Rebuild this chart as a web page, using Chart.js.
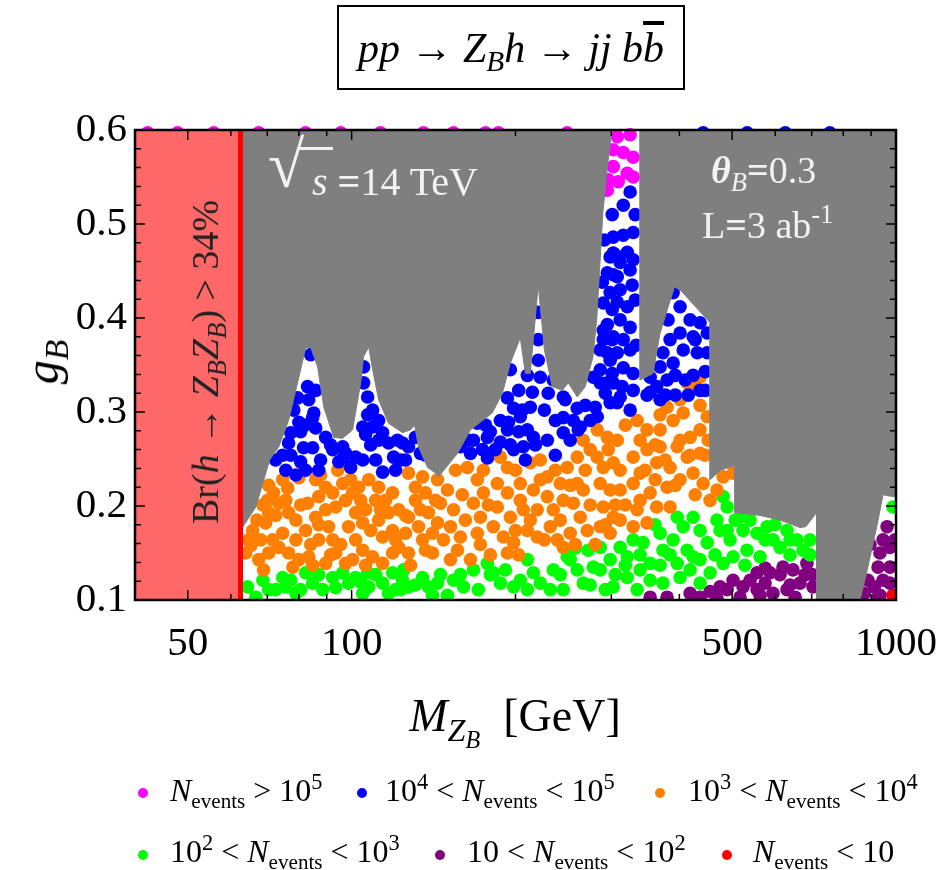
<!DOCTYPE html>
<html>
<head>
<meta charset="utf-8">
<title>pp → Z_B h → jj bb̄</title>
<script src="https://cdn.jsdelivr.net/npm/chart.js@4/dist/chart.umd.min.js"></script>
<style>
  html, body { margin: 0; padding: 0; background: #fff; }
  #wrap { position: relative; width: 941px; height: 870px; font-family: 'Liberation Serif', serif; color: #000; overflow: hidden; }
  #wrap canvas { position: absolute; left: 0; top: 0; }
  .lbl { position: absolute; white-space: nowrap; line-height: 1; z-index: 2; }
  .lbl sub { font-size: 0.7em; vertical-align: -0.3em; line-height: 0; }
  .lbl sup { font-size: 0.7em; vertical-align: 0.55em; line-height: 0; }
  .titlebox { left: 337px; top: 5px; width: 344px; height: 81px; border: 2px solid #000;
    font-size: 42px; display: flex; align-items: center; justify-content: center; }
  .ingray { color: #f2f2f2; }
  .dot { position: absolute; width: 10px; height: 10px; border-radius: 50%; z-index: 2; }
  .leg { font-size: 32px; }
  .leg sub { font-size: 0.66em; vertical-align: -0.35em; }
</style>
</head>
<body>
<div id="wrap">
  <canvas id="myChart" width="941" height="870"></canvas>

  <div class="lbl titlebox"><span><i>pp</i> → <i>Z</i><sub><i>B</i></sub><i>h</i> → <i>jj</i>&nbsp;<i>b</i><i style="text-decoration: overline;">b</i></span></div>

  <div class="lbl ingray" style="left:268px; top:132px; font-size:66px;">√</div>
  <div class="lbl" style="left:297px; top:147px; width:36px; height:3px; background:#f2f2f2;"></div>
  <div class="lbl ingray" style="left:312px; top:162px; font-size:40px;"><i>s</i> <b>=</b>14 TeV</div>
  <div class="lbl ingray" style="left:711px; top:151px; font-size:38px;"><b><i>θ</i></b><sub><i>B</i></sub><b>=</b>0.3</div>
  <div class="lbl ingray" style="left:702px; top:206px; font-size:38px;">L<b>=</b>3 ab<sup>-1</sup></div>

  <div class="lbl" style="left:205px; top:362px; font-size:38px; color:#222; transform:translate(-50%,-50%) rotate(-90deg);">Br(<i>h</i> → <i>Z</i><sub><i>B</i></sub><i>Z</i><sub><i>B</i></sub>) &gt; 34%</div>

  <div class="lbl" style="left:42px; top:362px; font-size:48px; transform:translate(-50%,-50%) rotate(-90deg);"><i>g</i><sub><i>B</i></sub></div>
  <div class="lbl" style="left:515px; top:716px; font-size:46px; transform:translate(-50%,-50%);"><i>M</i><sub><i>Z</i><sub style="font-size:0.75em;"><i>B</i></sub></sub>&nbsp;&nbsp;[GeV]</div>

  <div class="dot" style="left:138px; top:788px; background:#ff00ff;"></div>
  <div class="lbl leg" style="left:170px; top:774px;"><i>N</i><sub>events</sub> &gt; 10<sup>5</sup></div>
  <div class="dot" style="left:357px; top:788px; background:#0000ff;"></div>
  <div class="lbl leg" style="left:385px; top:774px;">10<sup>4</sup> &lt; <i>N</i><sub>events</sub> &lt; 10<sup>5</sup></div>
  <div class="dot" style="left:655px; top:788px; background:#ff8000;"></div>
  <div class="lbl leg" style="left:688px; top:774px;">10<sup>3</sup> &lt; <i>N</i><sub>events</sub> &lt; 10<sup>4</sup></div>

  <div class="dot" style="left:138px; top:850px; background:#00ff00;"></div>
  <div class="lbl leg" style="left:170px; top:835px;">10<sup>2</sup> &lt; <i>N</i><sub>events</sub> &lt; 10<sup>3</sup></div>
  <div class="dot" style="left:435px; top:850px; background:#800080;"></div>
  <div class="lbl leg" style="left:467px; top:835px;">10 &lt; <i>N</i><sub>events</sub> &lt; 10<sup>2</sup></div>
  <div class="dot" style="left:722px; top:850px; background:#ff0000;"></div>
  <div class="lbl leg" style="left:753px; top:835px;"><i>N</i><sub>events</sub> &lt; 10</div>
</div>

<script>
'use strict'

// axis ticks
var xTickLabels = [50, 100, 500, 1000];
var xMinorTicks = [40, 60, 70, 80, 90, 200, 300, 400, 600, 700, 800, 900];
var yTickLabels = [0.1, 0.2, 0.3, 0.4, 0.5, 0.6];
var yMinorTicks = [0.12, 0.14, 0.16, 0.18, 0.22, 0.24, 0.26, 0.28, 0.32, 0.34, 0.36, 0.38,
  0.42, 0.44, 0.46, 0.48, 0.52, 0.54, 0.56, 0.58];

// Br(h -> ZB ZB) cut: M_ZB < m_h / 2
var brCut = 62.5;

// upper edge of the allowed (white) region, [M_ZB, g_B]
var excludedEdge = [
  [62.5, 0.174], [66.7, 0.199], [70.7, 0.249], [73.5, 0.263], [76.6, 0.291], [80.0, 0.337],
  [82.3, 0.368], [84.1, 0.369], [86.6, 0.348], [88.9, 0.305], [92.7, 0.273], [96.3, 0.272],
  [100.4, 0.281], [103.9, 0.331], [105.2, 0.359], [107.5, 0.369], [109.3, 0.345], [112.1, 0.313],
  [116.9, 0.288], [124.0, 0.278], [128.3, 0.281], [130.5, 0.286], [132.7, 0.263], [137.9, 0.241],
  [142.6, 0.235], [144.4, 0.231], [156.5, 0.256], [165.3, 0.281], [181.3, 0.299], [189.2, 0.320],
  [195.7, 0.352], [204.1, 0.379], [208.5, 0.341], [212.9, 0.341], [220.2, 0.435], [226.0, 0.366],
  [233.6, 0.327], [243.8, 0.323], [250.0, 0.331], [259.7, 0.316], [268.6, 0.327], [277.6, 0.359],
  [282.2, 0.401], [289.4, 0.512], [295.6, 0.565], [300.8, 0.6], [338.8, 0.6], [338.8, 0.334],
  [357.8, 0.341], [368.7, 0.384], [391.6, 0.433], [401.2, 0.430], [455.5, 0.395], [455.5, 0.228],
  [476.2, 0.238], [506.0, 0.243], [506.0, 0.193], [562.7, 0.190], [612.3, 0.185], [666.3, 0.177],
  [682.8, 0.178], [715.1, 0.193], [715.1, 0.1], [858.7, 0.1], [883.0, 0.129], [922.0, 0.178],
  [946.6, 0.212], [985.5, 0.210], [1000, 0.210]
];

// scan points [M_ZB, g_B] per N_events class
var magenta = [
  [307.6, 0.593], [324.8, 0.595], [302.4, 0.579], [315.5, 0.576], [329.0, 0.571], [302.4, 0.561],
  [320.9, 0.554], [329.0, 0.550], [296.1, 0.547], [294.9, 0.536], [308.9, 0.545],
  [42.2, 0.597], [47.9, 0.597], [55.8, 0.597], [67.5, 0.597], [82.3, 0.597], [95.5, 0.597],
  [113.0, 0.597], [135.5, 0.597], [153.9, 0.597], [176.2, 0.597], [186.1, 0.597], [248.9, 0.597]
];

var blue = [
  [84.1, 0.361], [83.0, 0.327], [85.9, 0.323], [79.6, 0.315], [83.4, 0.313], [84.8, 0.294],
  [80.0, 0.289], [77.3, 0.278], [80.6, 0.279], [85.9, 0.283], [89.6, 0.273], [76.6, 0.267],
  [72.5, 0.249], [77.3, 0.254], [80.6, 0.247], [79.0, 0.233], [81.6, 0.262], [84.8, 0.262],
  [92.3, 0.260], [96.3, 0.263], [97.5, 0.256], [99.6, 0.241], [101.7, 0.252], [104.8, 0.249],
  [107.0, 0.316], [105.2, 0.331], [105.2, 0.348], [109.3, 0.302], [107.0, 0.297], [104.8, 0.284],
  [109.3, 0.284], [112.1, 0.291], [114.0, 0.278], [112.1, 0.270], [116.9, 0.267], [119.4, 0.252],
  [114.0, 0.236], [120.4, 0.238], [124.0, 0.267], [127.2, 0.263], [131.0, 0.273], [125.6, 0.249],
  [85.2, 0.299], [96.7, 0.252], [121.4, 0.270], [133.8, 0.256],
  [74.7, 0.254], [75.7, 0.238], [82.3, 0.238], [87.7, 0.249], [91.5, 0.265], [87.0, 0.238],
  [78.3, 0.302], [82.0, 0.286], [94.7, 0.247], [108.4, 0.265], [110.7, 0.249], [106.1, 0.276],
  [123.0, 0.249], [136.7, 0.254], [142.6, 0.249],
  [158.4, 0.263], [167.4, 0.270], [170.2, 0.288], [177.6, 0.273], [187.6, 0.268], [193.3, 0.281],
  [198.4, 0.304], [204.1, 0.295], [212.9, 0.305], [215.7, 0.273], [228.8, 0.270], [244.8, 0.278],
  [263.0, 0.284], [274.3, 0.291], [282.6, 0.295], [298.5, 0.310], [311.4, 0.316], [329.0, 0.323],
  [324.8, 0.302], [244.8, 0.316], [259.7, 0.304], [234.7, 0.334], [222.1, 0.337], [294.9, 0.331],
  [179.8, 0.279], [173.9, 0.260], [195.7, 0.265], [194.1, 0.289], [202.7, 0.279], [210.3, 0.281],
  [205.9, 0.302], [202.7, 0.323], [193.3, 0.315], [195.7, 0.345], [210.3, 0.339], [220.2, 0.355],
  [220.2, 0.377], [220.2, 0.406], [229.7, 0.320], [244.8, 0.294], [260.8, 0.281], [280.2, 0.305],
  [292.4, 0.320], [302.4, 0.331], [286.2, 0.331], [277.9, 0.337], [298.5, 0.355], [301.1, 0.377],
  [289.9, 0.377], [294.9, 0.393], [301.1, 0.409], [289.9, 0.416], [298.5, 0.427], [288.7, 0.438],
  [302.4, 0.446], [298.5, 0.465], [305.0, 0.467], [206.7, 0.263], [198.4, 0.260], [177.6, 0.251],
  [165.3, 0.256],
  [163.9, 0.270], [176.2, 0.286], [183.6, 0.260], [187.6, 0.291], [208.5, 0.249], [217.5, 0.265],
  [236.7, 0.254], [252.1, 0.270], [255.4, 0.291], [268.6, 0.307], [236.7, 0.291], [246.8, 0.313],
  [226.0, 0.302], [214.8, 0.321],
  [324.8, 0.534], [315.5, 0.520], [302.4, 0.486], [315.5, 0.488], [329.0, 0.491], [302.4, 0.469],
  [320.9, 0.470], [311.4, 0.459], [294.9, 0.448], [307.6, 0.444], [324.8, 0.451], [327.6, 0.435],
  [307.6, 0.417], [320.9, 0.412], [311.4, 0.398], [324.8, 0.390], [289.9, 0.387], [302.4, 0.380],
  [315.5, 0.377], [294.9, 0.363], [307.6, 0.363], [324.8, 0.366], [286.2, 0.345], [301.1, 0.341],
  [315.5, 0.347], [329.0, 0.341], [314.1, 0.327], [307.6, 0.310], [348.8, 0.318],
  [331.8, 0.419], [329.0, 0.462], [331.8, 0.510], [301.1, 0.510], [291.2, 0.483], [311.4, 0.430],
  [333.2, 0.371], [286.2, 0.366],
  [389.6, 0.427], [401.2, 0.412], [418.6, 0.398], [436.6, 0.395], [450.1, 0.384], [381.3, 0.398],
  [401.2, 0.384], [424.0, 0.380], [384.6, 0.377], [406.6, 0.366], [431.4, 0.363], [450.1, 0.363],
  [373.2, 0.363], [368.7, 0.348], [389.6, 0.352], [379.7, 0.334], [363.4, 0.327], [353.5, 0.337],
  [424.0, 0.339], [446.2, 0.343], [436.6, 0.323], [415.3, 0.318], [393.1, 0.318], [368.7, 0.313],
  [427.6, 0.377], [446.2, 0.323], [410.0, 0.334], [353.5, 0.321], [393.1, 0.339], [376.8, 0.318],
  [442.5, 0.597], [533.0, 0.597], [626.0, 0.597], [756.0, 0.597]
];

var orange = [
  [74.7, 0.228], [76.3, 0.219], [71.9, 0.214], [70.1, 0.206], [73.5, 0.203], [70.4, 0.193],
  [69.5, 0.182], [65.8, 0.174], [64.7, 0.164], [63.9, 0.150], [68.1, 0.164], [71.6, 0.164],
  [74.7, 0.171], [73.5, 0.156], [70.4, 0.150], [76.6, 0.150], [80.0, 0.143], [83.4, 0.146],
  [68.9, 0.132], [76.6, 0.193], [79.0, 0.185], [82.3, 0.174], [83.0, 0.203], [87.0, 0.210],
  [85.9, 0.228], [89.6, 0.220], [92.3, 0.214], [93.5, 0.199], [89.6, 0.196], [85.9, 0.188],
  [90.7, 0.178], [87.0, 0.164], [92.3, 0.164], [93.5, 0.150], [89.6, 0.139], [97.5, 0.139],
  [96.3, 0.224], [100.4, 0.214], [97.5, 0.206], [103.0, 0.220], [101.7, 0.193], [106.1, 0.196],
  [104.8, 0.182], [98.7, 0.178], [101.7, 0.164], [104.8, 0.153], [109.3, 0.146], [114.0, 0.139],
  [107.5, 0.228], [112.1, 0.220], [110.7, 0.206], [115.4, 0.206], [118.9, 0.214], [116.9, 0.193],
  [122.0, 0.196], [112.1, 0.185], [118.9, 0.174], [114.0, 0.167], [125.6, 0.171], [122.0, 0.156],
  [118.9, 0.150], [127.2, 0.150], [131.0, 0.220], [127.2, 0.235], [135.0, 0.231], [136.7, 0.214],
  [131.0, 0.206], [127.2, 0.188], [132.7, 0.178], [138.4, 0.193], [135.0, 0.164], [140.8, 0.171],
  [140.8, 0.150],
  [65.3, 0.158], [67.0, 0.185], [68.7, 0.201], [67.5, 0.143], [72.5, 0.190], [75.7, 0.206],
  [79.0, 0.164], [80.6, 0.201], [78.0, 0.135], [84.1, 0.159], [70.4, 0.222], [80.0, 0.230],
  [87.7, 0.233], [94.3, 0.238], [99.6, 0.228], [103.9, 0.206], [108.4, 0.174], [95.5, 0.159],
  [100.4, 0.143], [106.1, 0.137], [113.0, 0.196], [120.4, 0.164], [125.6, 0.190], [128.3, 0.137],
  [133.8, 0.196], [136.7, 0.153], [142.6, 0.206], [87.0, 0.180], [91.5, 0.148], [84.8, 0.137],
  [143.8, 0.228], [150.0, 0.217], [145.6, 0.203], [153.9, 0.196], [143.8, 0.182], [151.9, 0.178],
  [158.4, 0.167], [147.5, 0.164], [156.5, 0.153], [165.3, 0.143], [170.2, 0.171], [172.4, 0.188],
  [167.4, 0.203], [174.6, 0.214], [170.2, 0.228], [174.6, 0.238], [163.2, 0.241], [187.6, 0.252],
  [193.3, 0.241], [185.2, 0.224], [193.3, 0.214], [185.2, 0.199], [195.7, 0.188], [182.1, 0.178],
  [190.0, 0.167], [198.4, 0.161], [193.3, 0.150], [204.1, 0.224], [212.9, 0.246], [222.1, 0.249],
  [228.8, 0.231], [215.7, 0.217], [228.8, 0.210], [219.3, 0.196], [206.7, 0.196], [210.3, 0.174],
  [219.3, 0.167], [231.7, 0.178], [238.7, 0.164], [244.8, 0.156], [234.7, 0.196], [244.8, 0.206],
  [241.7, 0.224], [248.9, 0.241], [259.7, 0.252], [259.7, 0.224], [266.4, 0.217], [255.4, 0.203],
  [263.0, 0.188], [270.9, 0.174], [252.1, 0.171], [274.3, 0.260], [266.4, 0.270], [282.6, 0.281],
  [282.6, 0.252], [294.9, 0.273], [289.9, 0.241], [302.4, 0.246], [286.2, 0.224], [298.5, 0.217],
  [289.9, 0.199], [302.4, 0.188], [286.2, 0.178], [298.5, 0.171],
  [155.2, 0.238], [159.7, 0.212], [161.8, 0.185], [151.9, 0.143], [172.4, 0.159], [178.3, 0.201],
  [179.8, 0.148], [200.0, 0.238], [204.1, 0.206], [200.0, 0.174], [202.7, 0.148], [212.9, 0.185],
  [222.1, 0.228], [226.0, 0.164], [236.7, 0.238], [241.7, 0.185], [252.1, 0.222], [257.6, 0.159],
  [268.6, 0.238], [274.3, 0.201], [280.2, 0.159], [296.1, 0.260], [305.0, 0.201], [292.4, 0.180],
  [311.4, 0.238], [307.6, 0.270],
  [413.4, 0.331], [436.6, 0.337], [401.2, 0.313], [379.7, 0.305], [389.6, 0.291], [334.6, 0.291],
  [348.8, 0.281], [368.7, 0.281], [406.6, 0.299], [418.6, 0.273], [436.6, 0.281], [450.1, 0.295],
  [396.4, 0.263], [413.4, 0.252], [436.6, 0.256], [368.7, 0.263], [348.8, 0.260], [329.0, 0.252],
  [338.8, 0.235], [363.4, 0.246], [384.6, 0.241], [401.2, 0.228], [424.0, 0.235], [442.3, 0.224],
  [379.7, 0.220], [353.5, 0.214], [329.0, 0.224], [311.4, 0.217], [363.4, 0.199], [384.6, 0.199],
  [334.6, 0.196], [311.4, 0.185], [329.0, 0.178], [348.8, 0.182], [455.5, 0.206], [469.0, 0.217],
  [481.3, 0.231], [502.0, 0.235], [318.3, 0.286], [338.8, 0.270],
  [318.3, 0.201], [338.8, 0.206], [361.1, 0.228], [376.8, 0.249], [393.1, 0.222], [418.6, 0.254],
  [427.6, 0.212], [446.2, 0.254], [401.2, 0.270], [368.7, 0.297], [436.6, 0.307], [424.0, 0.329],
  [361.1, 0.265], [345.9, 0.238], [451.9, 0.270]
];

var green = [
  [64.4, 0.114], [68.7, 0.121], [70.4, 0.111], [74.7, 0.124], [75.7, 0.114], [79.0, 0.107],
  [82.3, 0.129], [84.8, 0.118], [88.5, 0.111], [92.3, 0.124], [96.3, 0.129], [98.7, 0.118],
  [101.7, 0.124], [107.5, 0.114], [104.8, 0.107], [114.0, 0.118], [118.9, 0.129], [124.0, 0.121],
  [127.2, 0.114], [135.0, 0.124], [138.4, 0.114], [116.9, 0.107], [107.0, 0.129], [124.6, 0.132],
  [123.0, 0.111],
  [66.7, 0.103], [72.5, 0.111], [77.3, 0.121], [80.6, 0.111], [87.0, 0.127], [93.5, 0.113],
  [103.9, 0.119], [110.7, 0.127], [120.4, 0.111], [131.0, 0.116], [145.6, 0.127], [140.8, 0.105],
  [143.8, 0.118], [153.9, 0.121], [160.5, 0.114], [167.4, 0.132], [177.6, 0.139], [182.1, 0.129],
  [187.6, 0.118], [198.4, 0.114], [210.3, 0.143], [215.7, 0.129], [222.1, 0.118], [234.7, 0.132],
  [248.9, 0.146], [259.7, 0.132], [266.4, 0.118], [277.9, 0.135], [286.2, 0.156], [298.5, 0.143],
  [311.4, 0.156], [329.0, 0.164], [320.9, 0.124], [302.4, 0.114], [244.8, 0.111], [210.3, 0.111],
  [150.0, 0.105],
  [158.4, 0.127], [170.9, 0.111], [179.8, 0.127], [191.6, 0.132], [204.1, 0.121], [231.7, 0.111],
  [241.7, 0.127], [252.1, 0.143], [274.3, 0.116], [286.2, 0.132], [292.4, 0.111], [305.0, 0.127],
  [272.0, 0.153], [257.6, 0.155],
  [320.9, 0.146], [338.8, 0.132], [334.6, 0.111], [353.5, 0.139], [373.2, 0.153], [368.7, 0.171],
  [389.6, 0.164], [406.6, 0.178], [396.4, 0.188], [424.0, 0.188], [436.6, 0.174], [413.4, 0.153],
  [396.4, 0.139], [424.0, 0.146], [450.1, 0.161], [455.5, 0.129], [401.2, 0.124], [373.2, 0.118],
  [469.0, 0.185], [489.6, 0.199], [517.0, 0.188], [489.6, 0.174], [523.5, 0.174], [502.0, 0.146],
  [532.4, 0.153], [555.6, 0.171], [579.7, 0.178], [594.3, 0.164], [562.7, 0.146], [630.7, 0.174],
  [612.3, 0.156], [657.7, 0.164], [675.0, 0.153], [481.3, 0.139], [436.6, 0.118], [343.1, 0.161],
  [481.3, 0.210], [987.3, 0.199], [695.1, 0.164], [638.7, 0.148],
  [353.5, 0.121], [368.7, 0.137], [384.6, 0.148], [418.6, 0.132], [436.6, 0.143], [465.1, 0.148],
  [495.6, 0.164], [528.0, 0.137], [539.4, 0.185], [574.8, 0.164], [599.3, 0.180], [638.7, 0.164],
  [695.1, 0.148], [475.1, 0.174], [506.6, 0.185], [361.1, 0.180], [338.8, 0.148], [318.3, 0.137]
];

var purple = [
  [353.5, 0.103], [379.7, 0.103], [436.6, 0.103], [475.1, 0.114], [502.0, 0.121], [523.5, 0.114],
  [555.6, 0.129], [587.0, 0.129], [620.1, 0.135], [646.7, 0.132], [686.0, 0.139], [666.3, 0.118],
  [630.7, 0.111], [594.3, 0.107], [703.7, 0.114], [555.6, 0.111], [517.0, 0.103], [469.0, 0.102],
  [574.8, 0.118], [418.6, 0.107], [455.5, 0.109], [489.6, 0.111], [539.4, 0.121], [574.8, 0.134],
  [612.3, 0.127], [638.7, 0.116], [680.8, 0.127], [701.4, 0.127], [562.7, 0.105], [652.7, 0.103],
  [962.9, 0.178], [946.7, 0.164], [974.8, 0.156], [934.4, 0.150], [927.0, 0.135], [974.8, 0.135],
  [946.7, 0.121], [912.3, 0.114], [874.2, 0.107], [974.8, 0.118], [927.0, 0.103], [895.8, 0.159],
  [888.1, 0.121], [995.8, 0.164], [934.4, 0.105]
];

var red = [[987.3, 0.105]];

function toXY(list) {
  return list.map(function(p) { return { x: p[0], y: p[1] }; });
}

function pointSet(list, color, noClip) {
  var ds = {
    type: 'scatter',
    data: toXY(list),
    backgroundColor: color,
    borderWidth: 0,
    pointRadius: 6.8,
    pointHoverRadius: 6.8,
    order: 3
  };
  if (noClip) ds.clip = false;
  return ds;
}

// inward ticks on all four sides plus the frame
var frameTicks = {
  id: 'frameTicks',
  afterDatasetsDraw: function(chart) {
    var ctx = chart.ctx;
    var a = chart.chartArea;
    var xs = chart.scales.x;
    var ys = chart.scales.y;
    ctx.save();
    ctx.strokeStyle = '#000';
    ctx.lineWidth = 1.5;
    ctx.beginPath();
    function xTick(v, len) {
      var px = xs.getPixelForValue(v);
      ctx.moveTo(px, a.bottom); ctx.lineTo(px, a.bottom - len);
      ctx.moveTo(px, a.top); ctx.lineTo(px, a.top + len);
    }
    function yTick(v, len) {
      var py = ys.getPixelForValue(v);
      ctx.moveTo(a.left, py); ctx.lineTo(a.left + len, py);
      ctx.moveTo(a.right, py); ctx.lineTo(a.right - len, py);
    }
    xMinorTicks.forEach(function(v) { xTick(v, 6); });
    xTickLabels.forEach(function(v) { xTick(v, 10); });
    yMinorTicks.forEach(function(v) { yTick(v, 6); });
    yTickLabels.forEach(function(v) { yTick(v, 10); });
    ctx.stroke();
    ctx.lineWidth = 2.5;
    ctx.strokeRect(a.left, a.top, a.right - a.left, a.bottom - a.top);
    ctx.restore();
  }
};

var tickFont = { family: "'Liberation Serif', serif", size: 41 };

var chart = new Chart(document.getElementById('myChart'), {
  type: 'scatter',
  data: {
    datasets: [
      {
        type: 'line',
        data: toXY([[brCut, 0.1], [brCut, 0.6]]),
        borderColor: '#ff0000',
        borderWidth: 5,
        pointRadius: 0,
        fill: false,
        order: 0
      },
      {
        type: 'line',
        data: toXY([[40, 0.6], [brCut, 0.6]]),
        borderColor: '#ff6868',
        borderWidth: 1,
        backgroundColor: '#ff6868',
        pointRadius: 0,
        fill: 'start',
        order: 1
      },
      {
        type: 'line',
        data: toXY(excludedEdge),
        borderColor: '#7f7f7f',
        borderWidth: 1,
        backgroundColor: '#7f7f7f',
        pointRadius: 0,
        tension: 0,
        fill: 'end',
        order: 2
      },
      pointSet(magenta, '#ff00ff', true),
      pointSet(blue, '#0000ff', true),
      pointSet(orange, '#ff8000'),
      pointSet(green, '#00ff00'),
      pointSet(purple, '#800080'),
      pointSet(red, '#ff0000')
    ]
  },
  options: {
    responsive: false,
    animation: false,
    events: [],
    layout: { padding: { left: 0, top: 130, right: 45, bottom: 200 } },
    plugins: {
      legend: { display: false },
      tooltip: { enabled: false }
    },
    scales: {
      x: {
        type: 'logarithmic',
        min: 40,
        max: 1000,
        grid: { display: false, drawTicks: false },
        border: { display: false },
        afterBuildTicks: function(axis) {
          axis.ticks = xTickLabels.map(function(v) { return { value: v }; });
        },
        afterFit: function(axis) {
          axis.height = 70;
          axis.paddingLeft = 0;
          axis.paddingRight = 0;
        },
        ticks: {
          autoSkip: false,
          maxRotation: 0,
          padding: 20,
          color: '#000',
          font: tickFont,
          callback: function(v) { return String(v); }
        }
      },
      y: {
        type: 'linear',
        min: 0.1,
        max: 0.6,
        grid: { display: false, drawTicks: false },
        border: { display: false },
        afterBuildTicks: function(axis) {
          axis.ticks = yTickLabels.map(function(v) { return { value: v }; });
        },
        afterFit: function(axis) {
          axis.width = 135;
          axis.paddingTop = 0;
          axis.paddingBottom = 0;
        },
        ticks: {
          padding: 8,
          color: '#000',
          font: tickFont,
          callback: function(v) { return v.toFixed(1); }
        }
      }
    }
  },
  plugins: [frameTicks]
});
</script>
</body>
</html>
